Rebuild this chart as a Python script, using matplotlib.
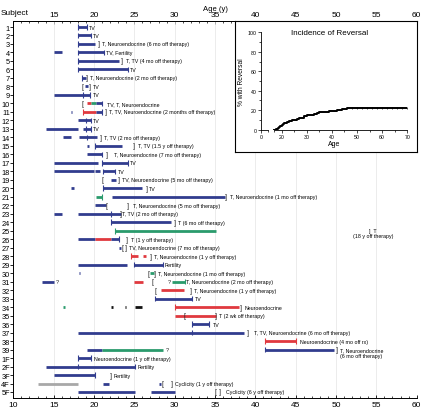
import matplotlib
matplotlib.use('Agg')
import matplotlib.pyplot as plt
from matplotlib.ticker import MultipleLocator

plt.rcParams['font.family'] = ['Liberation Sans', 'DejaVu Sans']

#######################################################################################################################
# Data

subjects = [str(i) for i in range(1, 40)] + ['1F', '2F', '3F', '4F', '5F']

COLORS = {'N': '#313c8e', 'R': '#e0393f', 'G': '#2a9b6c', 'K': '#111111', 'S': '#a8a8a8'}

# (subject, start age, end age, colour)
segments = [
    ('1', 18.0, 19.1, 'N'), ('2', 18.0, 19.6, 'N'), ('3', 18.0, 20.1, 'N'),
    ('4', 15.0, 16.0, 'N'), ('4', 18.0, 21.2, 'N'), ('5', 18.0, 23.1, 'N'), ('6', 18.0, 24.2, 'N'),
    ('7', 18.5, 19.0, 'N'), ('8', 18.9, 19.25, 'N'), ('9', 15.0, 19.5, 'N'),
    ('10', 19.1, 19.6, 'R'), ('10', 19.6, 20.2, 'G'), ('10', 20.2, 21.0, 'N'),
    ('11', 17.1, 17.3, 'N'), ('11', 18.6, 20.2, 'R'), ('11', 20.2, 21.0, 'N'),
    ('12', 18.0, 19.6, 'N'), ('13', 14.1, 18.0, 'N'), ('13', 18.6, 19.6, 'N'),
    ('14', 16.1, 17.1, 'N'), ('14', 18.1, 20.4, 'N'), ('15', 19.15, 19.35, 'N'), ('15', 20.1, 23.5, 'N'),
    ('16', 19.1, 21.0, 'N'), ('17', 15.1, 20.5, 'N'), ('17', 21.0, 24.2, 'N'),
    ('18', 15.1, 20.0, 'N'), ('18', 20.1, 20.8, 'N'), ('18', 21.1, 22.6, 'N'),
    ('19', 22.1, 22.7, 'N'), ('20', 17.1, 17.5, 'N'), ('20', 21.1, 26.0, 'N'),
    ('21', 20.25, 21.0, 'G'), ('21', 22.2, 36.25, 'N'), ('22', 20.1, 21.5, 'N'),
    ('23', 15.1, 16.0, 'N'), ('23', 18.0, 23.3, 'N'), ('24', 22.1, 29.6, 'N'), ('25', 22.6, 35.1, 'G'),
    ('26', 18.0, 20.1, 'N'), ('26', 20.1, 22.1, 'R'), ('26', 22.1, 23.1, 'N'),
    ('27', 23.1, 23.4, 'N'), ('28', 24.6, 25.4, 'R'), ('28', 26.1, 26.4, 'R'),
    ('29', 18.0, 24.1, 'N'), ('29', 25.0, 28.5, 'N'), ('30', 18.1, 18.3, 'N'), ('30', 27.0, 27.4, 'G'),
    ('31', 13.5, 15.0, 'N'), ('31', 25.0, 26.1, 'R'), ('31', 29.7, 31.25, 'G'),
    ('32', 28.25, 31.2, 'R'), ('33', 27.6, 32.1, 'N'),
    ('34', 16.1, 16.4, 'G'), ('34', 22.1, 22.3, 'K'), ('34', 23.8, 24.0, 'K'), ('34', 25.1, 26.0, 'K'),
    ('34', 30.1, 38.0, 'R'), ('35', 30.1, 35.1, 'R'), ('36', 32.2, 34.2, 'N'), ('37', 18.0, 38.6, 'N'),
    ('38', 41.2, 45.1, 'R'), ('39', 19.1, 21.0, 'N'), ('39', 21.0, 28.5, 'G'), ('39', 41.2, 49.7, 'N'),
    ('1F', 18.0, 19.6, 'N'), ('2F', 14.0, 25.1, 'N'), ('3F', 15.1, 20.1, 'N'),
    ('4F', 13.0, 18.0, 'S'), ('4F', 21.1, 21.9, 'N'), ('4F', 28.1, 28.3, 'N'),
    ('5F', 18.0, 25.1, 'N'), ('5F', 27.1, 30.1, 'N'),
]

# (subject, age, colour) end caps
caps = [
    ('1', 18.0, 'N'), ('1', 19.1, 'N'), ('2', 18.0, 'N'), ('2', 19.6, 'N'), ('3', 18.0, 'N'),
    ('4', 18.0, 'N'), ('4', 21.2, 'N'), ('5', 18.0, 'N'), ('6', 18.0, 'N'), ('6', 24.2, 'N'),
    ('7', 18.5, 'N'), ('9', 18.6, 'N'), ('9', 19.5, 'N'), ('10', 21.0, 'N'),
    ('11', 18.6, 'R'), ('11', 21.0, 'N'), ('12', 19.0, 'N'), ('12', 19.6, 'N'),
    ('13', 19.0, 'N'), ('13', 19.6, 'N'), ('14', 19.1, 'N'), ('15', 20.1, 'N'), ('16', 21.0, 'N'),
    ('17', 21.0, 'N'), ('17', 24.2, 'N'), ('18', 21.1, 'N'), ('18', 22.6, 'N'), ('20', 21.1, 'N'),
    ('21', 21.0, 'G'), ('23', 22.1, 'N'), ('24', 22.1, 'N'), ('25', 22.6, 'G'), ('26', 23.1, 'N'),
    ('28', 24.6, 'R'), ('29', 25.0, 'N'), ('29', 28.5, 'N'), ('31', 31.25, 'G'),
    ('33', 27.6, 'N'), ('33', 32.1, 'N'), ('34', 30.1, 'R'), ('36', 32.2, 'N'), ('36', 34.2, 'N'),
    ('37', 32.2, 'N'), ('38', 41.2, 'R'), ('38', 45.1, 'R'), ('39', 41.2, 'N'),
    ('1F', 18.0, 'N'), ('1F', 19.6, 'N'), ('2F', 18.0, 'N'), ('2F', 25.1, 'N'), ('3F', 20.1, 'N'),
]

open_marks = [('8', 18.6), ('10', 18.6), ('19', 21.1), ('22', 21.6), ('27', 23.5), ('30', 26.7),
              ('31', 27.2), ('32', 27.6), ('35', 31.2), ('4F', 28.5), ('5F', 35.1)]

close_marks = [('3', 20.6), ('5', 23.5), ('7', 19.1), ('8', 19.5), ('11', 21.5), ('14', 20.8),
               ('15', 25.0), ('16', 21.6), ('19', 23.1), ('20', 26.5), ('21', 36.4), ('22', 24.2),
               ('23', 23.3), ('24', 30.0), ('26', 24.1), ('27', 24.0), ('28', 27.1), ('30', 27.5),
               ('32', 32.0), ('34', 38.25), ('35', 35.1), ('37', 39.1), ('39', 50.1), ('3F', 22.1),
               ('4F', 29.6), ('5F', 35.6)]

unknown_marks = [('31', 15.2), ('31', 29.2), ('39', 28.9)]

labels = [
    ('1', 19.4, 'TV'), ('2', 19.9, 'TV'), ('3', 21.0, 'T, Neuroendocrine (6 mo off therapy)'),
    ('4', 21.5, 'TV, Fertility'), ('5', 24.0, 'T, TV (4 mo off therapy)'), ('6', 24.5, 'TV'),
    ('7', 19.5, 'T, Neuroendocrine (2 mo off therapy)'), ('8', 19.8, 'TV'), ('9', 19.8, 'TV'),
    ('10', 21.6, 'TV, T, Neuroendocrine'), ('11', 21.8, 'T, TV, Neuroendocrine (2 months off therapy)'),
    ('12', 19.9, 'TV'), ('13', 19.9, 'TV'), ('14', 21.2, 'T, TV (2 mo off therapy)'),
    ('15', 25.4, 'T, TV (1.5 y off therapy)'), ('16', 22.5, 'T, Neuroendocrine (7 mo off therapy)'),
    ('17', 24.5, 'TV'), ('18', 22.9, 'TV'), ('19', 23.5, 'TV, Neuroendocrine (5 mo off therapy)'),
    ('20', 26.8, 'TV'), ('21', 36.8, 'T, Neuroendocrine (1 mo off therapy)'),
    ('22', 24.8, 'T, Neuroendocrine (5 mo off therapy)'), ('23', 23.5, 'T, TV (2 mo off therapy)'),
    ('24', 30.4, 'T (6 mo off therapy)'), ('26', 24.6, 'T (1 y off therapy)'),
    ('27', 24.4, 'TV, Neuroendocrine (7 mo off therapy)'), ('28', 27.5, 'T, Neuroendocrine (1 y off therapy)'),
    ('29', 28.7, 'Fertility'), ('30', 27.9, 'T, Neuroendocrine (1 mo off therapy)'),
    ('31', 31.4, 'T, Neuroendocrine (2 mo off therapy)'), ('32', 32.4, 'T, Neuroendocrine (1 y off therapy)'),
    ('33', 32.5, 'TV'), ('34', 38.7, 'Neuroendocrine'), ('35', 35.5, 'T (2 wk off therapy)'),
    ('36', 34.7, 'TV'), ('37', 39.8, 'T, TV, Neuroendocrine (6 mo off therapy)'),
    ('38', 45.5, 'Neuroendocrine (4 mo off rx)'), ('39', 50.5, 'T, Neuroendocrine\n(6 mo off therapy)'),
    ('1F', 20.0, 'Neuroendocrine (1 y off therapy)'), ('2F', 25.4, 'Fertility'), ('3F', 22.4, 'Fertility'),
    ('4F', 30.0, 'Cyclicity (1 y off therapy)'), ('5F', 36.4, 'Cyclicity (6 y off therapy)'),
]
centered_labels = [('25', 54.6, ']  T\n(18 y off therapy)')]

# Inset: incidence of reversal (Kaplan-Meier style)
km_age = [17.1, 18, 18.5, 19, 19.5, 20, 20.5, 21, 22, 23, 24, 26, 27, 28, 29, 30, 32, 33, 34, 35, 37, 39, 42, 44, 46, 70]
km_pct = [0, 1, 2, 3, 4, 5, 6, 7, 8, 9, 10, 10.5, 11.5, 12.5, 14, 15, 15.5, 16.5, 17.5, 18, 18.5, 19, 20, 21, 22.5, 22.5]
censor_age = [48, 50, 52, 54, 56, 58, 60, 62, 64, 66, 68, 70]

#######################################################################################################################
# Plot

row = {s: i + 1 for i, s in enumerate(subjects)}

fig = plt.figure(figsize=(4.21, 4.14), dpi=100)
ax = fig.add_axes([13.3 / 421, 1 - 399 / 414, 403.4 / 421, 377 / 414])

for s, a, b, c in segments:
    ax.plot([a, b], [row[s], row[s]], color=COLORS[c], lw=2.0, solid_capstyle='butt', zorder=3)
for s, a, c in caps:
    ax.vlines(a, row[s] - 0.33, row[s] + 0.33, color=COLORS[c], lw=0.8, zorder=4)
for s, a in open_marks:
    ax.text(a, row[s], '[', fontsize=5, ha='center', va='center', color='#222222')
for s, a in close_marks:
    ax.text(a, row[s], ']', fontsize=5, ha='center', va='center', color='#222222')
for s, a in unknown_marks:
    ax.text(a, row[s], '?', fontsize=4, ha='left', va='center', color='#222222')
for s, a, t in labels:
    y = row[s] + (0.4 if '\n' in t else 0)
    ax.text(a, y, t, fontsize=3.8, ha='left', va='center', linespacing=1.2)
for s, a, t in centered_labels:
    ax.text(a, row[s] + 0.25, t, fontsize=3.8, ha='center', va='center', multialignment='center', linespacing=1.1)

ax.set_xlim(10, 60)
ax.set_ylim(len(subjects) + 0.707, 0.293)
ax.set_yticks(range(1, len(subjects) + 1), labels=subjects)
ax.set_xticks(range(10, 61, 5))
ax.xaxis.set_minor_locator(MultipleLocator(1))
ax.tick_params(axis='x', which='both', direction='in', labelsize=6, pad=2)
ax.tick_params(axis='x', which='major', length=2.5, width=0.6)
ax.tick_params(axis='x', which='minor', length=1.3, width=0.5)
ax.tick_params(axis='y', length=2, width=0.6, labelsize=5.3, pad=0.5)
ax.grid(axis='x', color='#e4e4e4', lw=0.5)
ax.set_axisbelow(True)
ax.spines['right'].set_visible(False)
for sp in ['left', 'top', 'bottom']:
    ax.spines[sp].set_linewidth(0.7)

secax = ax.secondary_xaxis('top')
secax.set_xticks(range(10, 61, 5), labels=[''] + [str(v) for v in range(15, 61, 5)])
secax.xaxis.set_minor_locator(MultipleLocator(1))
secax.tick_params(which='both', direction='in', labelsize=6, pad=2)
secax.tick_params(which='major', length=2.5, width=0.6)
secax.tick_params(which='minor', length=1.3, width=0.5)
secax.spines['top'].set_linewidth(0.7)
secax.set_xlabel('Age (y)', fontsize=5.5, labelpad=1)

fig.text(0.001, 1 - 13.5 / 414, 'Subject', fontsize=6, ha='left', va='center')

# inset frame and inset axes
frame = fig.add_axes([235 / 421, 1 - 153 / 414, 182 / 421, 131 / 414])
frame.set_xticks([])
frame.set_yticks([])
for sp in frame.spines.values():
    sp.set_linewidth(0.8)

inset = fig.add_axes([261 / 421, 1 - 130.7 / 414, 146.3 / 421, 97.4 / 414])
inset.patch.set_alpha(0)
inset.step(km_age, km_pct, where='post', color='black', lw=1.4)
inset.plot(censor_age, [km_pct[-1]] * len(censor_age), ls='none', marker='|', ms=2, mew=0.5, color='black')
inset.set_xlim(11.85, 70)
inset.set_ylim(0, 100)
inset.set_xticks([11.85, 20, 30, 40, 50, 60, 70], labels=['0', '20', '30', '40', '50', '60', '70'])
inset.set_xticks([14.75, 17.05, 25, 35, 45, 55, 65], minor=True)
inset.set_yticks(range(0, 101, 20))
inset.yaxis.set_minor_locator(MultipleLocator(10))
inset.tick_params(which='both', labelsize=3.8, width=0.5, pad=1)
inset.tick_params(which='major', length=2)
inset.tick_params(which='minor', length=1.2)
inset.spines['top'].set_visible(False)
inset.spines['right'].set_visible(False)
inset.spines['left'].set_linewidth(0.6)
inset.spines['bottom'].set_linewidth(0.6)
inset.spines['bottom'].set_bounds(17.05, 70)
inset.plot([11.85, 14.75], [0, 0], color='black', lw=0.6, clip_on=False)
inset.set_xlabel('Age', fontsize=5, labelpad=1)
inset.set_ylabel('% with Reversal', fontsize=4.8, labelpad=2)
inset.text(0.47, 1.0, 'Incidence of Reversal', transform=inset.transAxes, fontsize=5.8, ha='center', va='center')

fig.savefig('out.png', dpi=100)
